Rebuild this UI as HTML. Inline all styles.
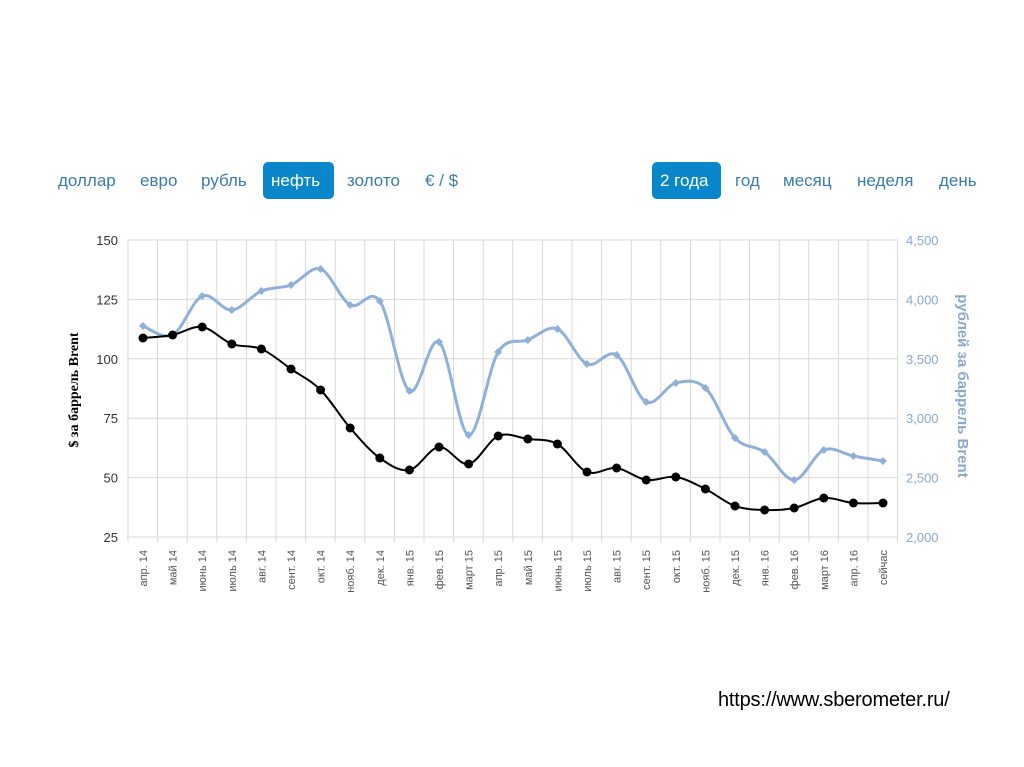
<!DOCTYPE html>
<html><head><meta charset="utf-8"><style>
body{margin:0;width:1024px;height:767px;background:#fff;overflow:hidden;font-family:"Liberation Sans",sans-serif;position:relative}
.b{position:absolute;top:162px;height:37px;line-height:37px;font-size:17px;color:#3b7bab;padding:0 8px;border-radius:5px}
.a{background:#0a86cb;color:#fff}
</style></head><body>
<div class="b" style="left:50px">доллар</div>
<div class="b" style="left:132px">евро</div>
<div class="b" style="left:193px">рубль</div>
<div class="b a" style="left:263px;width:55px">нефть</div>
<div class="b" style="left:339px">золото</div>
<div class="b" style="left:417px">€ / $</div>
<div class="b a" style="left:652px;width:53px">2 года</div>
<div class="b" style="left:727px">год</div>
<div class="b" style="left:775px">месяц</div>
<div class="b" style="left:849px">неделя</div>
<div class="b" style="left:931px">день</div>
<div style="position:absolute;left:718px;top:689px;font-size:20px;color:#000;letter-spacing:-0.2px">https://www.sberometer.ru/</div>
<svg id="s" width="1024" height="767" style="position:absolute;left:0;top:0"></svg>
<script>
var s=document.getElementById('s'),h='';
var L=127,R=898,T=240,B=537;
for(var i=0;i<6;i++){var y=T+i*(B-T)/5;h+='<line x1="'+L+'" x2="'+R+'" y1="'+y+'" y2="'+y+'" stroke="#d8d8d8"/>';
h+='<text x="118" y="'+(y+5)+'" text-anchor="end" font-size="13" fill="#333">'+(150-25*i)+'</text>';
h+='<text x="906" y="'+(y+5)+'" font-size="13" fill="#8aa8cc">'+['4,500','4,000','3,500','3,000','2,500','2,000'][i]+'</text>';}
var xs=[];for(var i=0;i<26;i++)xs.push(143+i*29.6);
for(var i=0;i<=26;i++){var x=128+i*29.6;if(x>R)x=R;h+='<line x1="'+x+'" x2="'+x+'" y1="'+T+'" y2="'+(B+5)+'" stroke="#d8d8d8"/>';}
var lab=['апр. 14','май 14','июнь 14','июль 14','авг. 14','сент. 14','окт. 14','нояб. 14','дек. 14','янв. 15','фев. 15','март 15','апр. 15','май 15','июнь 15','июль 15','авг. 15','сент. 15','окт. 15','нояб. 15','дек. 15','янв. 16','фев. 16','март 16','апр. 16','сейчас'];
for(var i=0;i<26;i++)h+='<text transform="translate('+(xs[i]+4)+',550) rotate(-90)" text-anchor="end" font-size="11" fill="#555">'+lab[i]+'</text>';
var bk=[338,335,327,344,349,369,390,428,458,470,447,464,436,439,444,472,468,480,477,489,506,510,508,498,503,503];
var bl=[326,335,296,310,291,285,269,305,301,391,342,435,352,340,329,364,355,402,383,388,438,452,480,450,456,461];
function p(ys){var d='M'+xs[0]+','+ys[0];for(var i=0;i<ys.length-1;i++){var x0=xs[Math.max(i-1,0)],y0=ys[Math.max(i-1,0)],x3=xs[Math.min(i+2,25)],y3=ys[Math.min(i+2,25)];
d+=' C'+(xs[i]+(xs[i+1]-x0)/6)+','+(ys[i]+(ys[i+1]-y0)/6)+' '+(xs[i+1]-(x3-xs[i])/6)+','+(ys[i+1]-(y3-ys[i])/6)+' '+xs[i+1]+','+ys[i+1];}return d;}
h+='<path d="'+p(bl)+'" fill="none" stroke="#8fb0d8" stroke-width="3"/>';
for(var i=0;i<26;i++){var x=xs[i],y=bl[i];h+='<path d="M'+x+','+(y-4)+'L'+(x+4)+','+y+'L'+x+','+(y+4)+'L'+(x-4)+','+y+'Z" fill="#8fb0d8"/>';}
h+='<path d="'+p(bk)+'" fill="none" stroke="#000" stroke-width="2"/>';
for(var i=0;i<26;i++)h+='<circle cx="'+xs[i]+'" cy="'+bk[i]+'" r="4.5" fill="#000"/>';
h+='<text transform="translate(78,390) rotate(-90)" text-anchor="middle" font-size="14" font-weight="bold" font-family="Liberation Serif" fill="#000">$ за баррель Brent</text>';
h+='<text transform="translate(958,386) rotate(90)" text-anchor="middle" font-size="15" font-weight="bold" fill="#8aa8cc">рублей за баррель Brent</text>';
s.innerHTML=h;
</script>
</body></html>
